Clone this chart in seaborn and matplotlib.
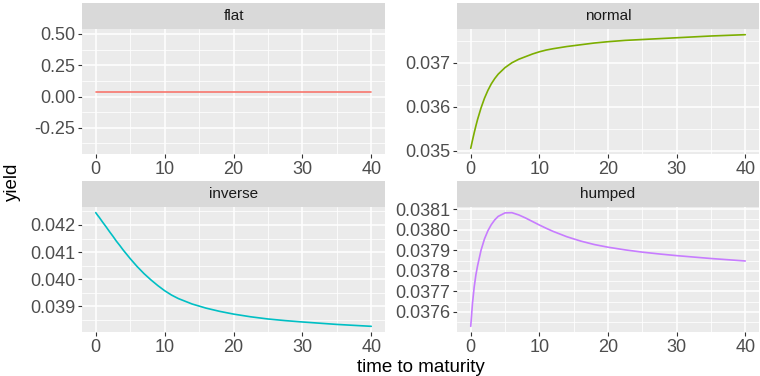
import numpy as np
import pandas as pd
import matplotlib
matplotlib.use("Agg")
import matplotlib.pyplot as plt
from matplotlib.ticker import FixedLocator, FuncFormatter
import seaborn as sns

# Maturities (years) and yields for the four curve shapes
maturity = [0, 0.25, 0.5, 0.75, 1, 1.5, 2, 2.5, 3, 3.5, 4, 5, 6, 7, 8, 9,
            10, 11, 12, 14, 16, 18, 20, 22.5, 25, 27.5, 30, 35, 40]

flat = [0.04] * len(maturity)
normal = [0.03505, 0.03523, 0.03540, 0.03556, 0.03571, 0.03597, 0.03619,
          0.03637, 0.03652, 0.03664, 0.03674, 0.03689, 0.03700, 0.03708,
          0.03714, 0.03720, 0.03725, 0.03729, 0.03732, 0.03737, 0.03741,
          0.03745, 0.03748, 0.03751, 0.03753, 0.03755, 0.03757, 0.03761,
          0.03764]
inverse = [0.04245, 0.04236, 0.04228, 0.04219, 0.04210, 0.04193, 0.04175,
           0.04158, 0.04140, 0.04124, 0.04107, 0.04076, 0.04047, 0.04021,
           0.03998, 0.03977, 0.03958, 0.03942, 0.03929, 0.03909, 0.03894,
           0.03882, 0.03872, 0.03862, 0.03854, 0.03848, 0.03843, 0.03834,
           0.03827]
humped = [0.037530, 0.037640, 0.037720, 0.037780, 0.037825, 0.037900,
          0.037955, 0.037995, 0.038025, 0.038048, 0.038065, 0.038082,
          0.038083, 0.038072, 0.038057, 0.038040, 0.038023, 0.038007,
          0.037992, 0.037966, 0.037945, 0.037928, 0.037915, 0.037902,
          0.037891, 0.037882, 0.037874, 0.037860, 0.037848]

shapes = ["flat", "normal", "inverse", "humped"]
colors = ["#F8766D", "#7CAE00", "#00BFC4", "#C77CFF"]

x_ticks = [0, 10, 20, 30, 40]
y_ticks = {
    "flat": [-0.25, 0.0, 0.25, 0.50],
    "normal": [0.035, 0.036, 0.037],
    "inverse": [0.039, 0.040, 0.041, 0.042],
    "humped": [0.0376, 0.0377, 0.0378, 0.0379, 0.0380, 0.0381],
}
y_decimals = {"flat": 2, "normal": 3, "inverse": 3, "humped": 4}

df = pd.DataFrame({
    "maturity": maturity * 4,
    "yield": flat + normal + inverse + humped,
    "shape": np.repeat(shapes, len(maturity)),
})

sns.set_theme(style="white")
plt.rcParams["font.family"] = ["Liberation Sans", "DejaVu Sans"]

W, H = 760, 376
fig = plt.figure(figsize=(W / 100, H / 100), dpi=100)

# panel boxes in pixels: (left, top, right, bottom)
boxes = {
    "flat": (82, 29, 385, 154),
    "normal": (457, 29, 759, 154),
    "inverse": (82, 207, 385, 332),
    "humped": (457, 207, 759, 332),
}
strip_h = 26


def frac(l, t, r, b):
    return [l / W, 1 - b / H, (r - l) / W, (b - t) / H]


def minor_breaks(major, lo, hi):
    step = major[1] - major[0]
    mids = [m + step / 2 for m in [major[0] - step] + list(major)]
    return [m for m in mids if lo <= m <= hi]


for shape, color in zip(shapes, colors):
    l, t, r, b = boxes[shape]
    ax = fig.add_axes(frac(l, t, r, b))
    ax.set_facecolor("#EBEBEB")
    sub = df[df["shape"] == shape]
    sns.lineplot(data=sub, x="maturity", y="yield", color=color,
                 linewidth=1.2, ax=ax, zorder=3)

    lo, hi = sub["yield"].min(), sub["yield"].max()
    if hi - lo < 1e-12:
        ylo, yhi = lo - 0.5, hi + 0.5
    else:
        pad = 0.05 * (hi - lo)
        ylo, yhi = lo - pad, hi + pad
    ax.set_ylim(ylo, yhi)
    ax.set_xlim(-2, 42)

    yt = y_ticks[shape]
    for v in minor_breaks(x_ticks, -2, 42):
        ax.axvline(v, color="white", lw=0.55, zorder=1)
    for v in minor_breaks(yt, ylo, yhi):
        ax.axhline(v, color="white", lw=0.55, zorder=1)
    for v in x_ticks:
        ax.axvline(v, color="white", lw=1.1, zorder=2)
    for v in yt:
        ax.axhline(v, color="white", lw=1.1, zorder=2)

    ax.xaxis.set_major_locator(FixedLocator(x_ticks))
    ax.yaxis.set_major_locator(FixedLocator(yt))
    d = y_decimals[shape]
    ax.yaxis.set_major_formatter(FuncFormatter(lambda v, p, d=d: f"{v:.{d}f}"))
    ax.xaxis.set_major_formatter(FuncFormatter(lambda v, p: f"{v:g}"))
    ax.tick_params(axis="both", which="major", length=3, width=0.8,
                   color="#333333", labelcolor="#4D4D4D", labelsize=13,
                   pad=2, left=True, bottom=True)
    for s in ax.spines.values():
        s.set_visible(False)
    ax.set_xlabel("")
    ax.set_ylabel("")

    # facet strip
    sax = fig.add_axes(frac(l, t - strip_h, r, t))
    sax.set_facecolor("#D9D9D9")
    sax.set_xticks([])
    sax.set_yticks([])
    for s in sax.spines.values():
        s.set_visible(False)
    sax.text(0.5, 0.5, shape, ha="center", va="center", fontsize=11,
             color="#1A1A1A", transform=sax.transAxes)

fig.text(421 / W, 1 - 367 / H, "time to maturity", ha="center", va="center",
         fontsize=13.5, color="black")
fig.text(12 / W, 1 - 182 / H, "yield", ha="center", va="center",
         rotation=90, fontsize=13.5, color="black")

fig.savefig("out.png", dpi=100, facecolor="white")
